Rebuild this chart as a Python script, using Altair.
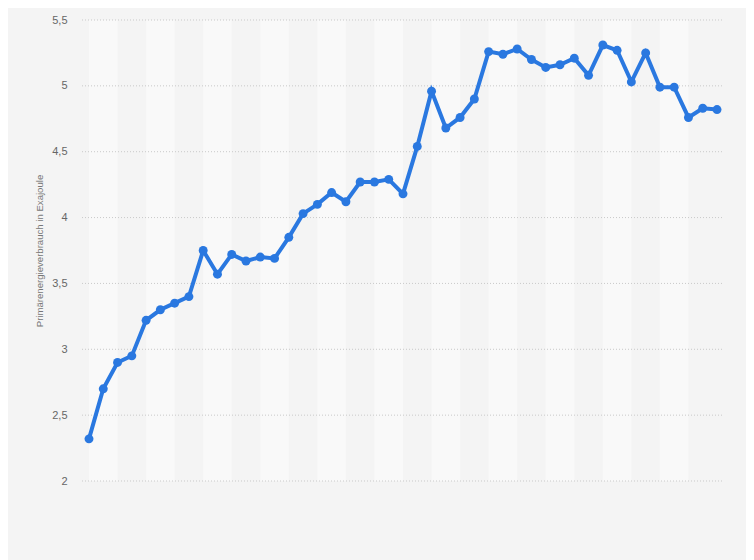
import altair as alt
import pandas as pd

values = [2.32, 2.70, 2.90, 2.95, 3.22, 3.30, 3.35, 3.40, 3.75, 3.57,
          3.72, 3.67, 3.70, 3.69, 3.85, 4.03, 4.10, 4.19, 4.12, 4.27,
          4.27, 4.29, 4.18, 4.54, 4.96, 4.68, 4.76, 4.90, 5.26, 5.24,
          5.28, 5.20, 5.14, 5.16, 5.21, 5.08, 5.31, 5.27, 5.03, 5.25,
          4.99, 4.99, 4.76, 4.83, 4.82]
y_ticks = [2, 2.5, 3, 3.5, 4, 4.5, 5, 5.5]
band_starts = list(range(0, 44, 4))

W, H = 642, 461
df = pd.DataFrame({"i": list(range(len(values))), "v": values})
bands = pd.DataFrame({"s": band_starts, "e": [b + 2 for b in band_starts]})
grid = pd.DataFrame({"t": y_ticks})

xscale = alt.Scale(domain=[-0.49, 44.49], nice=False, zero=False)
yscale = alt.Scale(domain=[2, 5.5], nice=False, zero=False)
yaxis = alt.Axis(values=y_ticks, grid=False, domain=False, ticks=False,
                 labelPadding=15, labelFontSize=11, labelColor="#666666",
                 labelFont="Liberation Sans",
                 labelExpr="replace(format(datum.value, '~g'), '.', ',')",
                 title="Primärenergieverbrauch in Exajoule",
                 titleFont="Liberation Sans", titleFontSize=9.6,
                 titleFontWeight="normal", titleColor="#777777",
                 titlePadding=7)

band_layer = alt.Chart(bands).mark_rect(color="#f9f9f9").encode(
    x=alt.X("s:Q", scale=xscale, axis=None),
    x2="e:Q",
    y=alt.value(0),
    y2=alt.value(H),
)

grid_layer = alt.Chart(grid).mark_rule(color="#c9c9c9", strokeDash=[1, 2], strokeWidth=1).encode(
    y=alt.Y("t:Q", scale=yscale, axis=yaxis),
    x=alt.value(0),
    x2=alt.value(W),
)

line_layer = alt.Chart(df).mark_line(
    color="#2a78e0", strokeWidth=4,
    point=alt.OverlayMarkDef(color="#2a78e0", size=80, filled=True, opacity=1),
).encode(
    x=alt.X("i:Q", scale=xscale, axis=None),
    y=alt.Y("v:Q", scale=yscale, axis=yaxis),
)

chart = alt.layer(band_layer, grid_layer, line_layer).properties(
    width=W, height=H,
    autosize=alt.AutoSizeParams(type="none"),
    padding={"left": 74, "top": 12, "right": 22, "bottom": 79},
    background="#f4f4f4",
).configure_view(stroke=None)

chart.save("out.html", embed_options={"renderer": "svg", "actions": False})
